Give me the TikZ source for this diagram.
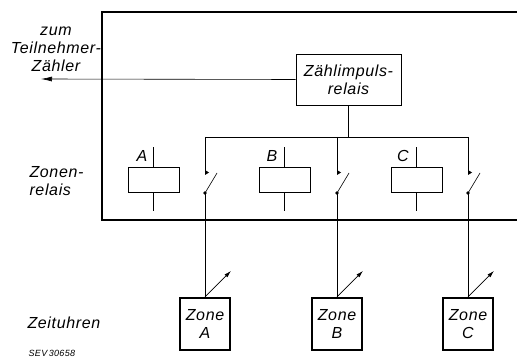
\documentclass[tikz,border=0pt]{standalone}
\usepackage{fontspec}
\setmainfont{Liberation Sans}[LetterSpace=4]
\usetikzlibrary{arrows.meta}
\begin{document}
\begin{tikzpicture}[x=1pt,y=-1pt,
	every node/.style={font=\fontsize{16}{18}\selectfont\itshape},
	relaybox/.style={draw,semithick,minimum width=51pt,minimum height=25pt,inner sep=0pt},
	zonebox/.style={draw,line width=2.2pt,minimum width=50pt,minimum height=52pt,inner sep=0pt,align=center}]
	\useasboundingbox (0,0) rectangle (517,358);
	% Gestell
	\draw[line width=2.2pt] (517,12) -- (102,12) -- (102,220) -- (517,220);
	% Zaehlimpulsrelais
	\node[draw,semithick,minimum width=105pt,minimum height=51pt,align=center,inner sep=0pt] (zip) at (348.5,79.5) {Zählimpuls-\\relais};
	\coordinate (tz) at (41,79);
	\draw[semithick,-{Latex[length=11pt,width=5pt]}] (zip.west) -- (tz);
	\node[align=center] (zum) at (56,49) {zum\\Teilnehmer-\\Zähler};
	% Sammelschiene
	\coordinate (bus) at (348.5,137);
	\coordinate (busA) at (205,137);
	\coordinate (busB) at (337,137);
	\coordinate (busC) at (468,137);
	\draw[semithick] (zip.south) -- (bus);
	\draw[semithick] (busA) -- (busC);
	% Zonenrelais
	\node[relaybox] (rA) at (153.5,179.5) {};
	\node[relaybox] (rB) at (284.5,179.5) {};
	\node[relaybox] (rC) at (416.5,179.5) {};
	\draw[semithick] (rA.north) -- ++(0,-20) (rA.south) -- ++(0,19);
	\draw[semithick] (rB.north) -- ++(0,-20) (rB.south) -- ++(0,19);
	\draw[semithick] (rC.north) -- ++(0,-20) (rC.south) -- ++(0,19);
	\node (lA) at (142,156) {A};
	\node (lB) at (272,156) {B};
	\node (lC) at (403,156) {C};
	\node[align=left,anchor=west] (zr) at (26,181) {Zonen-\\relais};
	% Kontakte
	\coordinate (kA) at (205,173);
	\coordinate (kB) at (337,173);
	\coordinate (kC) at (468,173);
	\coordinate (pA) at (205,193);
	\coordinate (pB) at (337,193);
	\coordinate (pC) at (468,193);
	\draw[semithick] (busA) -- (kA);
	\draw[semithick] (busB) -- (kB);
	\draw[semithick] (busC) -- (kC);
	\fill (kA) -- ++(0,-3) -- ++(4,2.5) -- ++(-4,2.5) -- cycle;
	\fill (kB) -- ++(0,-3) -- ++(4,2.5) -- ++(-4,2.5) -- cycle;
	\fill (kC) -- ++(0,-3) -- ++(4,2.5) -- ++(-4,2.5) -- cycle;
	\draw[semithick] (pA) -- ++(12,-20);
	\draw[semithick] (pB) -- ++(12,-20);
	\draw[semithick] (pC) -- ++(12,-20);
	\fill (pA) circle (1.8);
	\fill (pB) circle (1.8);
	\fill (pC) circle (1.8);
	% Zeituhren
	\node[zonebox] (zA) at (205,324) {Zone\\A};
	\node[zonebox] (zB) at (337,324) {Zone\\B};
	\node[zonebox] (zC) at (468,324) {Zone\\C};
	\draw[semithick] (pA) -- (zA.north);
	\draw[semithick] (pB) -- (zB.north);
	\draw[semithick] (pC) -- (zC.north);
	\draw[semithick,-{Latex[length=7pt,width=4pt]}] (zA.north) -- ++(26,-26);
	\draw[semithick,-{Latex[length=7pt,width=4pt]}] (zB.north) -- ++(26,-26);
	\draw[semithick,-{Latex[length=7pt,width=4pt]}] (zC.north) -- ++(26,-26);
	\node[anchor=west] (zu) at (24,323) {Zeituhren};
	\node[anchor=west,font=\fontsize{9}{10}\selectfont\itshape] (sev) at (25,353) {SEV\,30658};
\end{tikzpicture}
\end{document}
